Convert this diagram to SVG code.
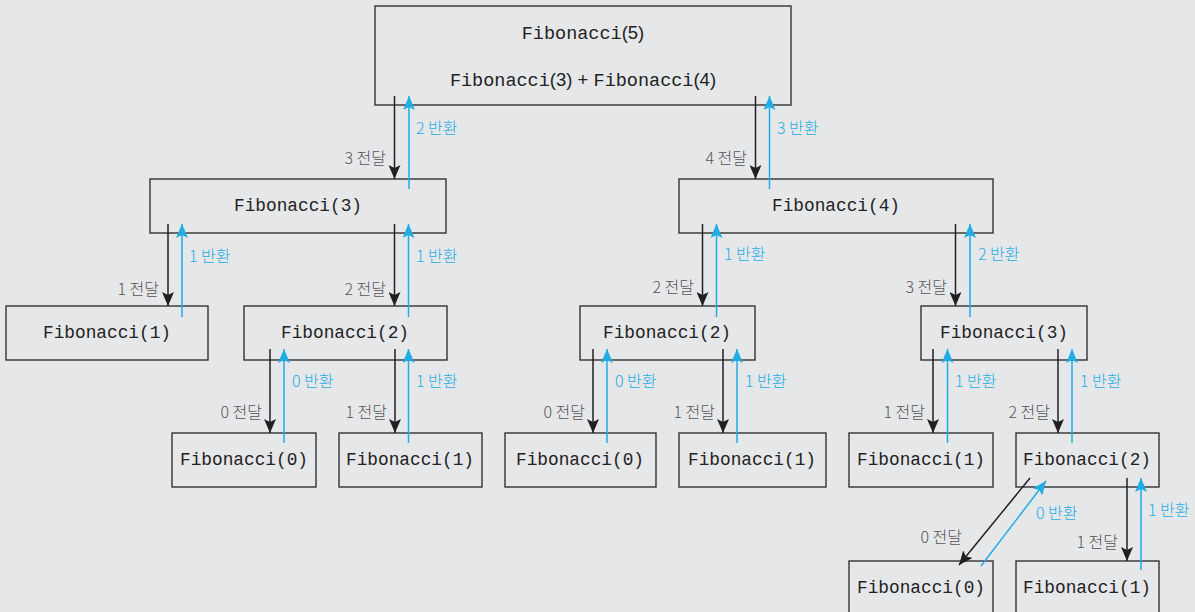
<svg xmlns="http://www.w3.org/2000/svg" width="1195" height="612" viewBox="0 0 1195 612">
<style>
.box{fill:none;stroke:#333;stroke-width:1.4}
.nt{font-family:"Liberation Mono","DejaVu Sans Mono",monospace;font-size:17.8px;fill:#222;text-anchor:middle}
.tt{font-size:18.5px}
.sn{font-family:"Liberation Sans",Arial,sans-serif;font-weight:300}
.dn{stroke:#231f20;stroke-width:1.5;fill:none;marker-end:url(#hb)}
.up{stroke:#1fade4;stroke-width:1.5;fill:none;marker-end:url(#hu)}
.lb{font-family:"Noto Sans CJK KR","Noto Sans",sans-serif;font-size:16px;font-weight:300;fill:#555;text-anchor:end}
.lu{font-family:"Noto Sans CJK KR","Noto Sans",sans-serif;font-size:16px;font-weight:300;fill:#1fade4}
</style>
<defs>
<marker id="hb" markerUnits="userSpaceOnUse" markerWidth="15" markerHeight="12" refX="14" refY="6" orient="auto"><path d="M0,0 L14,6 L0,12 L3,6 z" fill="#231f20"/></marker>
<marker id="hu" markerUnits="userSpaceOnUse" markerWidth="15" markerHeight="12" refX="14" refY="6" orient="auto"><path d="M0,0 L14,6 L0,12 L3,6 z" fill="#1fade4"/></marker>
</defs>
<rect width="1195" height="612" fill="#e6e7e9"/>

<g id="n-f5">
<rect class="box" x="375" y="6" width="416" height="99"/>
<text class="nt tt" x="583" y="39">Fibonacci<tspan class="sn">(5)</tspan></text>
<text class="nt tt" x="583" y="86">Fibonacci<tspan class="sn">(3) + </tspan>Fibonacci<tspan class="sn">(4)</tspan></text>
</g>
<g id="n-f3a"><rect class="box" x="150" y="179" width="296" height="54"/><text class="nt" x="298" y="211">Fibonacci(3)</text></g>
<g id="n-f4"><rect class="box" x="679" y="179" width="314" height="54"/><text class="nt" x="836" y="211">Fibonacci(4)</text></g>
<g id="n-f1a"><rect class="box" x="6" y="306" width="202" height="54"/><text class="nt" x="107" y="338">Fibonacci(1)</text></g>
<g id="n-f2a"><rect class="box" x="244" y="306" width="203" height="54"/><text class="nt" x="345" y="338">Fibonacci(2)</text></g>
<g id="n-f2b"><rect class="box" x="580" y="306" width="175" height="54"/><text class="nt" x="667" y="338">Fibonacci(2)</text></g>
<g id="n-f3b"><rect class="box" x="921" y="306" width="166" height="54"/><text class="nt" x="1004" y="338">Fibonacci(3)</text></g>
<g id="n-f0a"><rect class="box" x="172" y="433" width="144" height="54"/><text class="nt" x="244" y="465">Fibonacci(0)</text></g>
<g id="n-f1b"><rect class="box" x="339" y="433" width="143" height="54"/><text class="nt" x="410" y="465">Fibonacci(1)</text></g>
<g id="n-f0b"><rect class="box" x="505" y="433" width="151" height="54"/><text class="nt" x="580" y="465">Fibonacci(0)</text></g>
<g id="n-f1c"><rect class="box" x="679" y="433" width="147" height="54"/><text class="nt" x="752" y="465">Fibonacci(1)</text></g>
<g id="n-f1d"><rect class="box" x="849" y="433" width="144" height="54"/><text class="nt" x="921" y="465">Fibonacci(1)</text></g>
<g id="n-f2c"><rect class="box" x="1016" y="433" width="143" height="54"/><text class="nt" x="1087" y="465">Fibonacci(2)</text></g>
<g id="n-f0c"><rect class="box" x="849" y="561" width="144" height="60"/><text class="nt" x="921" y="593">Fibonacci(0)</text></g>
<g id="n-f1e"><rect class="box" x="1016" y="561" width="143" height="60"/><text class="nt" x="1087" y="593">Fibonacci(1)</text></g>

<g id="connectors">
<line class="dn" x1="394.5" y1="96" x2="394.5" y2="179"/>
<line class="up" x1="409" y1="189" x2="409" y2="96"/>
<line class="dn" x1="755.5" y1="96" x2="755.5" y2="179"/>
<line class="up" x1="769.5" y1="189" x2="769.5" y2="96"/>

<line class="dn" x1="168" y1="224" x2="168" y2="306"/>
<line class="up" x1="182" y1="317" x2="182" y2="224"/>
<line class="dn" x1="394.5" y1="224" x2="394.5" y2="306"/>
<line class="up" x1="408.5" y1="317" x2="408.5" y2="224"/>
<line class="dn" x1="702.5" y1="224" x2="702.5" y2="306"/>
<line class="up" x1="716.5" y1="317" x2="716.5" y2="224"/>
<line class="dn" x1="955.5" y1="224" x2="955.5" y2="306"/>
<line class="up" x1="970" y1="317" x2="970" y2="224"/>

<line class="dn" x1="270" y1="349" x2="270" y2="433"/>
<line class="up" x1="284" y1="443" x2="284" y2="349"/>
<line class="dn" x1="395" y1="349" x2="395" y2="433"/>
<line class="up" x1="408.5" y1="443" x2="408.5" y2="349"/>
<line class="dn" x1="593" y1="349" x2="593" y2="433"/>
<line class="up" x1="607" y1="443" x2="607" y2="349"/>
<line class="dn" x1="723" y1="349" x2="723" y2="433"/>
<line class="up" x1="737" y1="443" x2="737" y2="349"/>
<line class="dn" x1="933" y1="349" x2="933" y2="433"/>
<line class="up" x1="947.5" y1="443" x2="947.5" y2="349"/>
<line class="dn" x1="1058" y1="349" x2="1058" y2="433"/>
<line class="up" x1="1072" y1="443" x2="1072" y2="349"/>

<line class="dn" x1="1030" y1="478" x2="959" y2="565"/>
<line class="up" x1="981" y1="566" x2="1046" y2="481"/>
<line class="dn" x1="1127" y1="478" x2="1127" y2="561"/>
<line class="up" x1="1141" y1="570" x2="1141" y2="478"/>
</g>

<g id="labels">
<text class="lu" x="416" y="134">2 반환</text>
<text class="lb" x="386" y="164">3 전달</text>
<text class="lb" x="747" y="164">4 전달</text>
<text class="lu" x="777" y="134">3 반환</text>

<text class="lu" x="189" y="262">1 반환</text>
<text class="lb" x="159" y="295">1 전달</text>
<text class="lu" x="416" y="262">1 반환</text>
<text class="lb" x="386" y="295">2 전달</text>
<text class="lu" x="724" y="260">1 반환</text>
<text class="lb" x="694" y="293">2 전달</text>
<text class="lu" x="978" y="260">2 반환</text>
<text class="lb" x="947" y="293">3 전달</text>

<text class="lu" x="292" y="387">0 반환</text>
<text class="lb" x="262" y="418">0 전달</text>
<text class="lu" x="416" y="387">1 반환</text>
<text class="lb" x="387" y="418">1 전달</text>
<text class="lu" x="615" y="387">0 반환</text>
<text class="lb" x="585" y="418">0 전달</text>
<text class="lu" x="745" y="387">1 반환</text>
<text class="lb" x="715" y="418">1 전달</text>
<text class="lu" x="955" y="387">1 반환</text>
<text class="lb" x="925" y="418">1 전달</text>
<text class="lu" x="1080" y="387">1 반환</text>
<text class="lb" x="1050" y="418">2 전달</text>

<text class="lu" x="1036" y="519">0 반환</text>
<text class="lb" x="962" y="543">0 전달</text>
<text class="lu" x="1148" y="516">1 반환</text>
<text class="lb" x="1118" y="548">1 전달</text>
</g>
</svg>
